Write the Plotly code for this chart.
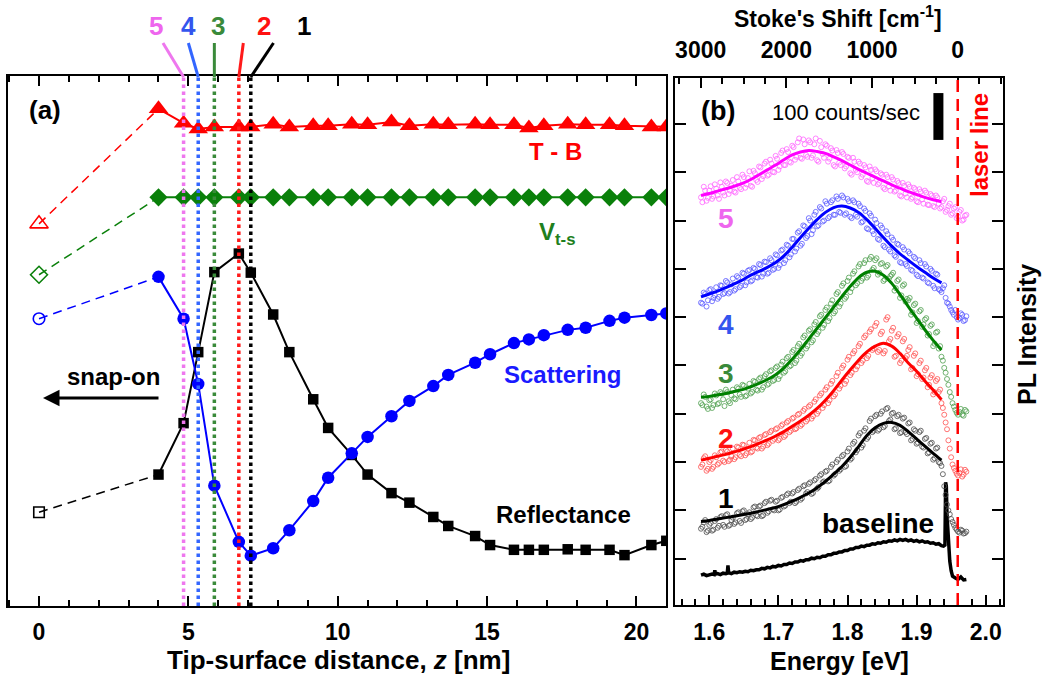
import numpy as np
import plotly.graph_objects as go

W, H = 1043, 681
FONT = "Liberation Sans, Arial, sans-serif"

# ---------------- panel (a): tip-surface distance data ----------------
z = [4.0, 4.84, 5.33, 5.87, 6.69, 7.09, 7.84, 8.38, 9.18, 9.68, 10.47, 11.0, 11.8, 12.4,
     13.2, 13.7, 14.6, 15.1, 15.9, 16.4, 16.9, 17.7, 18.3, 19.1, 19.6, 20.5, 21.0]
tb = [93.8, 91.1, 90.0, 90.4, 90.4, 90.4, 90.9, 90.4, 90.6, 90.6, 90.9, 90.8, 91.3, 90.6,
      90.9, 90.8, 90.9, 90.8, 90.8, 90.2, 90.6, 90.9, 90.8, 90.8, 90.6, 90.4, 90.4]
vts = [77.1, 77.1, 77.1, 77.1, 77.1, 77.1, 77.1, 77.1, 77.1, 77.1, 77.1, 77.1, 77.1, 77.1,
       77.1, 77.1, 77.1, 77.1, 77.1, 77.1, 77.1, 77.1, 77.1, 77.1, 77.1, 77.1, 77.1]
scat = [62.1, 54.2, 41.9, 22.7, 12.1, 9.5, 10.9, 14.3, 19.8, 24.2, 28.8, 31.9, 35.8, 38.7,
        41.5, 43.6, 45.9, 47.5, 49.6, 50.3, 51.1, 52.1, 52.5, 53.8, 54.4, 54.9, 55.2]
refl = [24.8, 34.5, 47.9, 63.0, 66.5, 62.9, 55.0, 47.9, 39.0, 33.6, 28.5, 24.8, 21.3, 19.5,
        16.8, 15.1, 13.2, 11.5, 10.6, 10.6, 10.6, 10.7, 10.6, 10.6, 9.6, 11.5, 12.3]
z_snap = 0.0
tb_snap, vts_snap, scat_snap, refl_snap = 72.1, 62.5, 54.2, 17.7

# positions (z) of spectra 1..5
spec_labels = ["1", "2", "3", "4", "5"]
spec_z = [7.09, 6.69, 5.87, 5.33, 4.84]
spec_colors_line = ["#000000", "#ff1a1a", "#3a8a3a", "#3366ff", "#ee77ee"]

# ---------------- panel (b): PL spectra ----------------
laser_eV = 1.9595
E_fit = np.round(1.588 + 0.012 * np.arange(30), 3)
E_pts = np.round(1.588 + 0.004 * np.arange(97), 3)
E_pts2 = np.round(1.590 + 0.004 * np.arange(96), 3)

fit5 = [752, 756, 761, 766, 771, 777, 785, 795, 805, 815, 826, 836, 842, 845, 843, 839, 832, 824, 815, 806,
        798, 790, 782, 774, 767, 760, 754, 748, 743, 739]
fit4 = [542, 548, 554, 561, 569, 577, 587, 595, 603, 613, 627, 645, 665, 684, 702, 717, 727, 730, 726, 717,
        702, 684, 665, 647, 631, 618, 605, 593, 581, 571]
fit3 = [334, 336, 339, 342, 346, 350, 356, 363, 371, 381, 395, 413, 433, 455, 477, 499, 521, 543, 564, 582,
        593, 595, 587, 570, 547, 522, 498, 474, 452, 432]
fit2 = [204, 208, 212, 216, 221, 226, 232, 239, 246, 254, 263, 274, 285, 297, 311, 328, 348, 370, 391, 411,
        428, 440, 446, 440, 425, 405, 388, 368, 349, 329]
fit1 = [77, 79, 82, 85, 88, 91, 94, 98, 102, 106, 112, 119, 127, 136, 147, 160, 175, 191, 210, 232,
        255, 271, 280, 282, 276, 263, 248, 233, 218, 204]

pl5 = [748, 770, 741, 762, 745, 775, 752, 779, 758, 781, 755, 772, 760, 790, 768, 795, 768, 788, 772, 803, 784,
       812, 786, 818, 793, 826, 801, 834, 805, 840, 815, 848, 822, 855, 826, 862, 830, 868, 836, 866, 830, 858,
       825, 865, 838, 858, 822, 850, 815, 846, 820, 842, 808, 832, 798, 830, 805, 822, 790, 815, 782, 812, 788,
       806, 775, 798, 768, 795, 771, 790, 760, 782, 752, 778, 756, 775, 745, 768, 740, 765, 744, 762, 733, 755,
       730, 752, 735, 728, 745, 722, 735, 715, 728, 708, 722, 702, 712]
pl5b = [738, 762, 747, 771, 750, 766, 745, 770, 752, 778, 762, 784, 758, 781, 765, 790, 775, 802, 770, 798, 780,
        810, 792, 822, 795, 818, 800, 828, 812, 845, 815, 842, 820, 852, 832, 870, 828, 858, 832, 862, 835, 870,
        822, 852, 830, 855, 828, 845, 812, 840, 815, 838, 812, 830, 795, 822, 800, 818, 795, 810, 780, 805, 778,
        802, 778, 795, 765, 790, 762, 785, 762, 778, 750, 772, 748, 770, 748, 765, 738, 760, 735, 758, 732, 752,
        728, 748, 725, 740, 718, 730, 712, 725, 705, 718, 700, 710]
pl4 = [530, 551, 522, 556, 533, 545, 538, 566, 548, 575, 549, 568, 555, 585, 562, 592, 566, 596, 574, 602, 583,
       610, 584, 615, 590, 622, 598, 630, 602, 638, 612, 650, 624, 662, 636, 675, 648, 690, 664, 705, 672, 712,
       688, 728, 698, 740, 705, 738, 712, 750, 718, 752, 712, 745, 708, 742, 712, 735, 696, 725, 684, 715, 678,
       702, 662, 690, 648, 678, 640, 665, 628, 652, 614, 645, 610, 636, 598, 625, 588, 618, 582, 610, 572, 600,
       565, 590, 558, 552, 566, 530, 522, 510, 515, 495, 508, 492, 502]
pl4b = [528, 548, 535, 558, 540, 562, 542, 565, 550, 572, 552, 580, 558, 582, 565, 590, 572, 598, 576, 600, 582,
        608, 590, 614, 592, 618, 600, 628, 608, 640, 618, 648, 630, 662, 642, 678, 652, 688, 668, 700, 680, 718,
        690, 725, 700, 735, 708, 742, 712, 745, 716, 748, 715, 740, 705, 738, 708, 730, 698, 720, 682, 710, 672,
        695, 660, 685, 645, 672, 636, 660, 625, 650, 612, 640, 606, 632, 596, 622, 585, 612, 580, 605, 570, 596,
        560, 588, 556, 560, 540, 528, 515, 505, 500, 498, 505, 494]
pl3 = [322, 340, 315, 328, 312, 342, 320, 345, 330, 350, 326, 338, 332, 355, 340, 360, 336, 352, 342, 368, 350,
       372, 350, 378, 360, 388, 368, 395, 372, 402, 385, 415, 398, 428, 405, 440, 420, 458, 435, 472, 448, 485,
       465, 502, 478, 515, 492, 528, 508, 548, 522, 565, 538, 575, 552, 590, 566, 605, 575, 612, 582, 620, 598,
       618, 588, 610, 575, 605, 580, 588, 555, 575, 540, 565, 532, 535, 505, 525, 488, 512, 480, 495, 462, 482,
       440, 468, 435, 418, 395, 372, 345, 322, 308, 298, 310, 296, 305]
pl3b = [318, 335, 310, 330, 318, 338, 322, 342, 316, 345, 322, 350, 330, 352, 335, 358, 338, 362, 345, 366, 348,
        375, 355, 382, 362, 390, 370, 398, 378, 408, 388, 418, 400, 432, 410, 445, 425, 462, 440, 475, 452, 490,
        470, 505, 484, 520, 498, 535, 512, 552, 528, 570, 542, 582, 560, 595, 570, 610, 580, 618, 586, 625, 602,
        622, 592, 612, 578, 608, 585, 592, 560, 578, 545, 568, 538, 540, 510, 528, 492, 515, 485, 498, 465, 485,
        445, 470, 440, 410, 385, 360, 335, 315, 302, 304, 298, 308]
pl2 = [190, 208, 182, 200, 186, 214, 195, 220, 203, 225, 202, 212, 206, 232, 215, 236, 214, 228, 220, 246, 230,
       250, 228, 256, 235, 262, 244, 268, 245, 275, 252, 282, 262, 290, 268, 298, 275, 306, 284, 315, 290, 325,
       300, 338, 312, 350, 322, 362, 336, 378, 352, 395, 362, 412, 380, 425, 392, 440, 405, 458, 415, 470, 432,
       482, 428, 465, 425, 495, 450, 472, 418, 460, 405, 450, 415, 432, 392, 420, 378, 405, 372, 390, 355, 375,
       340, 368, 345, 322, 298, 268, 228, 195, 182, 172, 185, 174, 180]
pl2b = [195, 212, 186, 204, 190, 210, 198, 222, 200, 222, 205, 228, 210, 230, 212, 235, 218, 240, 222, 245, 228,
        252, 232, 258, 238, 265, 248, 270, 248, 278, 255, 285, 265, 292, 270, 300, 278, 310, 288, 318, 295, 330,
        305, 342, 318, 355, 328, 368, 340, 385, 358, 400, 368, 418, 385, 430, 398, 445, 410, 462, 420, 475, 435,
        488, 432, 470, 430, 500, 455, 478, 420, 465, 410, 455, 420, 438, 395, 425, 382, 410, 375, 395, 360, 380,
        345, 372, 350, 312, 282, 245, 210, 188, 176, 178, 170, 184]
pl1 = [62, 75, 55, 70, 58, 78, 64, 86, 70, 90, 68, 80, 72, 94, 78, 98, 80, 92, 82, 106, 90,
       108, 88, 115, 95, 120, 102, 118, 100, 126, 108, 132, 115, 135, 115, 142, 122, 150, 135, 155, 134, 162,
       145, 172, 158, 180, 160, 190, 172, 200, 182, 212, 190, 222, 205, 238, 220, 255, 230, 265, 248, 285, 262,
       295, 265, 300, 272, 310, 285, 300, 268, 295, 260, 290, 262, 280, 245, 268, 238, 262, 232, 248, 218, 238,
       205, 228, 200, 192, 150, 112, 92, 76, 64, 56, 60, 52, 56]
pl1b = [66, 80, 58, 74, 60, 82, 68, 88, 66, 92, 70, 85, 75, 96, 74, 100, 82, 96, 85, 108, 88,
        110, 90, 118, 98, 122, 100, 120, 102, 128, 110, 135, 118, 138, 118, 145, 125, 152, 138, 158, 136, 165,
        148, 175, 160, 182, 162, 195, 175, 205, 185, 215, 192, 228, 208, 242, 225, 260, 235, 270, 252, 290, 265,
        298, 268, 305, 275, 312, 288, 302, 270, 298, 262, 292, 258, 282, 248, 265, 240, 265, 230, 250, 220, 240,
        208, 230, 198, 175, 132, 100, 82, 70, 60, 54, 58, 53]

base_E = [1.588, 1.592, 1.596, 1.600, 1.604, 1.607, 1.608, 1.609, 1.612, 1.616, 1.620, 1.624, 1.626, 1.627,
          1.628, 1.632, 1.636, 1.640, 1.644, 1.648, 1.652, 1.656, 1.660, 1.664, 1.668, 1.672, 1.676, 1.680,
          1.684, 1.688, 1.692, 1.696, 1.700, 1.704, 1.708, 1.712, 1.716, 1.720, 1.724, 1.728, 1.732, 1.736,
          1.740, 1.744, 1.748, 1.752, 1.756, 1.760, 1.764, 1.768, 1.772, 1.776, 1.780, 1.784, 1.788, 1.792,
          1.796, 1.800, 1.804, 1.808, 1.812, 1.816, 1.820, 1.824, 1.828, 1.832, 1.836, 1.840, 1.844, 1.848,
          1.852, 1.856, 1.860, 1.864, 1.868, 1.872, 1.876, 1.880, 1.884, 1.888, 1.892, 1.896, 1.900, 1.904,
          1.908, 1.912, 1.916, 1.920, 1.924, 1.928, 1.932, 1.936, 1.939, 1.941, 1.942, 1.943, 1.944, 1.946,
          1.948, 1.950, 1.952, 1.956, 1.960, 1.964, 1.968, 1.972]
base_c = [-34, -32, -35, -33, -32, -33, -24, -32, -31, -33, -30, -31, -30, -14,
          -29, -31, -28, -29, -27, -28, -26, -27, -24, -25, -23, -23, -20, -21,
          -18, -19, -16, -17, -14, -15, -12, -12, -9, -10, -7, -7, -4, -5,
          -2, -2, 1, 0, 3, 2, 5, 5, 8, 8, 11, 11, 14, 14,
          17, 17, 20, 20, 23, 23, 26, 25, 28, 28, 31, 30, 33, 32,
          35, 34, 37, 36, 39, 37, 40, 38, 40, 37, 39, 36, 38, 35,
          37, 34, 35, 32, 33, 30, 31, 27, 26, 28, 158, 150, 90, 30,
          -5, -25, -36, -40, -43, -38, -44, -43]

spectra = [  # (label, points, points (2nd readout), fit, point colour, line colour)
    ("1", pl1, pl1b, fit1, "#4d4d4d", "#000000"),
    ("2", pl2, pl2b, fit2, "#ff5050", "#ff0000"),
    ("3", pl3, pl3b, fit3, "#4fa04f", "#008000"),
    ("4", pl4, pl4b, fit4, "#5a5aff", "#0000ff"),
    ("5", pl5, pl5b, fit5, "#ff66ff", "#ff00ff"),
]
label_colors_b = {"1": "#000000", "2": "#ff1111", "3": "#3a8a3a", "4": "#3355ee", "5": "#ee66ee"}

# ---------------- geometry ----------------
def px(x):
    return x / W

def py(y):
    return 1 - y / H

XA_DOM = [px(8), px(666)]
YA_DOM = [py(606), py(76)]
XB_DOM = [px(675), px(1003)]
YB_DOM = [py(605), py(78)]
XA_RANGE = [-1.038, 20.99]
XB_RANGE = [1.55036, 2.02503]
YB_RANGE = [-95.9, 995.2]
EV_TO_CM = 8065.54
XT_RANGE = [(laser_eV - XB_RANGE[0]) * EV_TO_CM, (laser_eV - XB_RANGE[1]) * EV_TO_CM]

fig = go.Figure()

# ---- panel (a) traces ----
series_a = [
    ("T - B", tb, tb_snap, "#ff0000", "triangle-up", 17, 16),
    ("Vts", vts, vts_snap, "#0a800a", "diamond", 14, 13),
    ("Reflectance", refl, refl_snap, "#000000", "square", 10.5, 10.5),
    ("Scattering", scat, scat_snap, "#0000ff", "circle", 12.5, 11.5),
]
for name, vals, v0, col, sym, msz, osz in series_a:
    fig.add_trace(go.Scatter(x=[z_snap, z[0]], y=[v0, vals[0]], mode="lines",
                             line=dict(color=col, width=1.5, dash="9px,6px"),
                             xaxis="x", yaxis="y", showlegend=False, hoverinfo="skip"))
    fig.add_trace(go.Scatter(x=[z_snap], y=[v0], mode="markers",
                             marker=dict(symbol=sym + "-open", size=osz, color=col,
                                         line=dict(color=col, width=1.6)),
                             xaxis="x", yaxis="y", showlegend=False))
    fig.add_trace(go.Scatter(x=z, y=vals, mode="lines+markers",
                             line=dict(color=col, width=2),
                             marker=dict(symbol=sym, size=msz, color=col, line=dict(width=0)),
                             xaxis="x", yaxis="y", showlegend=False))

# ---- panel (b) traces ----
fig.add_trace(go.Scatter(x=base_E, y=base_c, mode="lines", line=dict(color="black", width=3.5),
                         xaxis="x2", yaxis="y2", showlegend=False))
for lab, pts, pts2, fit, pcol, lcol in spectra:
    fig.add_trace(go.Scatter(x=np.concatenate([E_pts[:len(pts)], E_pts2[:len(pts2)]]),
                             y=list(pts) + list(pts2), mode="markers",
                             marker=dict(symbol="circle-open", size=5, color=pcol,
                                         line=dict(width=0.8, color=pcol)),
                             xaxis="x2", yaxis="y2", showlegend=False))
for lab, pts, pts2, fit, pcol, lcol in spectra:
    fig.add_trace(go.Scatter(x=E_fit, y=fit, mode="lines", line=dict(color=lcol, width=3, shape="spline"),
                             xaxis="x2", yaxis="y2", showlegend=False))

# invisible trace that activates the top Stokes-shift axis
fig.add_trace(go.Scatter(x=[XT_RANGE[0]], y=[YB_RANGE[0] - 50], mode="markers", marker=dict(opacity=0),
                         xaxis="x3", yaxis="y2", showlegend=False, hoverinfo="skip"))

# ---------------- axes ----------------
tickfont = dict(family=FONT, size=23, color="black", weight="bold")
common = dict(showline=True, linecolor="black", linewidth=2, showgrid=False, zeroline=False)

fig.update_layout(
    xaxis=dict(domain=XA_DOM, range=XA_RANGE, anchor="y", ticks="inside", ticklen=10, tickwidth=2,
               tickcolor="black", dtick=5, tick0=0, mirror="ticks", tickfont=tickfont,
               ticklabelstandoff=4,
               minor=dict(dtick=1, tick0=0, ticks="inside", ticklen=6, tickwidth=1.5, tickcolor="black"),
               **common),
    yaxis=dict(domain=YA_DOM, range=[0, 100], anchor="x", ticks="", showticklabels=False, mirror=True,
               **common),
    xaxis2=dict(domain=XB_DOM, range=XB_RANGE, anchor="y2", ticks="inside", ticklen=10, tickwidth=2,
                tickcolor="black", dtick=0.1, tick0=1.6, tickformat=".1f", mirror=True, tickfont=tickfont,
                ticklabelstandoff=5,
                minor=dict(dtick=0.02, tick0=1.6, ticks="inside", ticklen=6, tickwidth=1.5, tickcolor="black"),
                **common),
    xaxis3=dict(overlaying="x2", side="top", anchor="y2", range=XT_RANGE, ticks="inside", ticklen=10,
                tickwidth=2, tickcolor="black", dtick=1000, tick0=0, tickfont=tickfont, ticklabelstandoff=14,
                minor=dict(dtick=250, tick0=0, ticks="inside", ticklen=6, tickwidth=1.5, tickcolor="black"),
                showline=False, showgrid=False, zeroline=False),
    yaxis2=dict(domain=YB_DOM, range=YB_RANGE, anchor="x2", ticks="inside", ticklen=11, tickwidth=2,
                tickcolor="black", dtick=100, tick0=0, showticklabels=False, mirror="ticks", **common),
    width=W, height=H, margin=dict(l=0, r=0, t=0, b=0),
    paper_bgcolor="white", plot_bgcolor="white", showlegend=False,
    font=dict(family=FONT, color="black"),
)

# ---------------- shapes ----------------
shapes = []
for lab, zz, col in zip(spec_labels, spec_z, spec_colors_line):
    shapes.append(dict(type="line", xref="x", yref="y domain", x0=zz, x1=zz, y0=0, y1=1,
                       line=dict(color=col, width=3.5, dash="dot"), layer="above"))
# leader lines from the labels above panel (a) to the dotted lines
leader_top = {"5": 4.15, "4": 5.0, "3": 5.87, "2": 6.84, "1": 7.85}
for lab, zz, col in zip(spec_labels, spec_z, spec_colors_line):
    shapes.append(dict(type="line", xref="x", yref="paper", x0=leader_top[lab], y0=py(43), x1=zz, y1=py(77),
                       line=dict(color=col, width=3)))
# laser line
shapes.append(dict(type="line", xref="x2", yref="y2 domain", x0=laser_eV, x1=laser_eV, y0=0, y1=1,
                   line=dict(color="#ff0000", width=2.5, dash="12px,7px"), layer="above"))
# 100 counts/sec scale bar
shapes.append(dict(type="rect", xref="x2", yref="y2", x0=1.9243, x1=1.9388, y0=867, y1=964,
                   fillcolor="black", line=dict(width=0)))
fig.update_layout(shapes=shapes)

# ---------------- annotations ----------------
def ann(text, x, y, size, color="black", bold=True, angle=0, **kw):
    return dict(text=text, x=px(x), y=py(y), xref="paper", yref="paper", showarrow=False,
                textangle=angle, xanchor="center", yanchor="middle",
                font=dict(family=FONT, size=size, color=color, weight="bold" if bold else "normal"), **kw)

anns = [
    ann("(a)", 45, 110, 26),
    ann("T - B", 555, 152, 24, "#ff0000"),
    ann("V<sub>t-s</sub>", 557, 233, 24, "#1e801e"),
    ann("Scattering", 562, 375, 24, "#1a1aff"),
    ann("Reflectance", 563, 514, 24),
    ann("snap-on", 113, 376, 24),
    ann("Tip-surface distance, <i>z</i> [nm]", 338, 660, 26),
    ann("Energy [eV]", 839, 661, 25),
    ann("Stoke's Shift [cm<sup>-1</sup>]", 838, 17, 23),
    ann("(b)", 718, 111, 27),
    ann("100 counts/sec", 846, 113, 22, bold=False),
    ann("laser line", 979, 145, 24, "#ff0000", angle=-90),
    ann("PL Intensity", 1027, 335, 25, angle=-90),
    ann("baseline", 878, 523, 28),
]
top_label_x = {"5": 156, "4": 188, "3": 218, "2": 264, "1": 304}
top_label_col = {"5": "#ee66ee", "4": "#3355ee", "3": "#3a8a3a", "2": "#ff1111", "1": "#000000"}
for lab in spec_labels:
    anns.append(ann(lab, top_label_x[lab], 26, 26, top_label_col[lab]))
side_label_y = {"5": 218, "4": 325, "3": 373, "2": 438, "1": 498}
for lab in spec_labels:
    anns.append(ann(lab, 726, side_label_y[lab], 28, label_colors_b[lab]))
# snap-on arrow
anns.append(dict(x=px(43), y=py(398), xref="paper", yref="paper", text="", showarrow=True,
                 ax=117, ay=0, arrowhead=2, arrowsize=1.1, arrowwidth=3, arrowcolor="black"))
fig.update_layout(annotations=anns)

fig.write_html("out.html")
